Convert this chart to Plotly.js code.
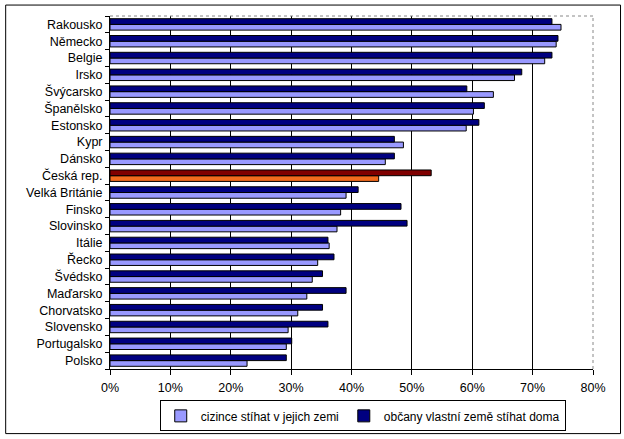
<!DOCTYPE html>
<html>
<head>
<meta charset="utf-8">
<script src="https://cdn.plot.ly/plotly-3.0.1.min.js"></script>
<style>
html,body{margin:0;padding:0;background:#fff;}
#chart{width:624px;height:439px;}
</style>
</head>
<body>
<div id="chart"></div>
<script>
// categories listed bottom to top
const countries = ["Polsko","Portugalsko","Slovensko","Chorvatsko","Maďarsko","Švédsko","Řecko","Itálie","Slovinsko","Finsko","Velká Británie","Česká rep.","Dánsko","Kypr","Estonsko","Španělsko","Švýcarsko","Irsko","Belgie","Německo","Rakousko"];
const cizinceValues = [22.7,29.2,29.5,31.1,32.6,33.5,34.4,36.3,37.6,38.2,39.1,44.5,45.6,48.6,59.0,60.2,63.5,67.0,72.0,73.9,74.7];
const obcanyValues = [29.2,30.1,36.1,35.2,39.1,35.2,37.1,36.1,49.2,48.2,41.1,53.2,47.1,47.1,61.1,62.0,59.1,68.2,73.2,74.2,73.2];
const seriesNames = ["cizince stíhat v jejich zemi","občany vlastní země stíhat doma"];
const xTickVals = [0,10,20,30,40,50,60,70,80];
const xTickText = ["0%","10%","20%","30%","40%","50%","60%","70%","80%"];
const highlight = "Česká rep.";

const lightColors = countries.map(c => c === highlight ? "#F26B1D" : "#9999FF");
const darkColors = countries.map(c => c === highlight ? "#800000" : "#000080");

const traces = [
  {type:"bar", orientation:"h", name:seriesNames[0], y:countries, x:cizinceValues,
   marker:{color:lightColors, line:{color:"#000", width:1}}, hoverinfo:"x+y"},
  {type:"bar", orientation:"h", name:seriesNames[1], y:countries, x:obcanyValues,
   marker:{color:darkColors, line:{color:"#000", width:1}}, hoverinfo:"x+y"}
];

const layout = {
  width:624, height:439,
  margin:{l:109.5, r:30.7, t:16, b:69.7, pad:0, autoexpand:false},
  paper_bgcolor:"#fff", plot_bgcolor:"#fff",
  font:{family:"Liberation Sans, Arial, sans-serif", size:12, color:"#000"},
  barmode:"group", bargap:0.32, bargroupgap:0,
  showlegend:true,
  legend:{orientation:"h", xref:"container", yref:"container", x:0.256, xanchor:"left", y:0.088, yanchor:"top",
    bordercolor:"#000", borderwidth:1, bgcolor:"#fff",
    font:{size:12}, traceorder:"normal", itemwidth:30, tracegroupgap:0},
  xaxis:{range:[0,80], tickmode:"array", tickvals:xTickVals, ticktext:xTickText, automargin:false,
    tickfont:{size:12.5}, ticklabelstandoff:2, showgrid:true, gridcolor:"#000", gridwidth:1,
    showline:true, linecolor:"#000", linewidth:1, ticks:"outside", ticklen:5, tickcolor:"#000",
    zeroline:false, fixedrange:true},
  yaxis:{type:"category", categoryorder:"array", categoryarray:countries, showgrid:false, automargin:false,
    tickfont:{size:12.5}, ticklabelstandoff:4,
    showline:true, linecolor:"#000", linewidth:1, ticks:"outside", ticklen:4, tickcolor:"#000",
    tickson:"boundaries", zeroline:false, fixedrange:true},
  shapes:[
    {type:"rect", xref:"paper", yref:"paper", x0:-0.216, x1:1.057, y0:-0.183, y1:1.031,
     line:{color:"#000", width:1}, fillcolor:"rgba(0,0,0,0)", layer:"below"},
    {type:"line", xref:"paper", yref:"paper", x0:0, x1:1, y0:1, y1:1,
     line:{color:"#888", width:1, dash:"dot"}, layer:"above"},
    {type:"line", xref:"paper", yref:"paper", x0:1, x1:1, y0:0, y1:1,
     line:{color:"#888", width:1, dash:"dot"}, layer:"above"}
  ]
};

Plotly.newPlot("chart", traces, layout, {displayModeBar:false, staticPlot:true});
</script>
</body>
</html>
